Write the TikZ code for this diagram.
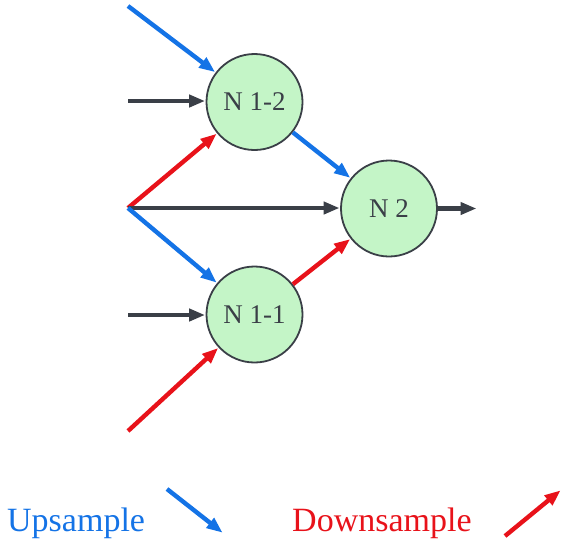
\documentclass[tikz,border=0pt]{standalone}
\usepackage{fontspec}
\setmainfont{Liberation Serif}
\usetikzlibrary{arrows.meta}
\definecolor{ublue}{HTML}{1473E6}
\definecolor{dred}{HTML}{E8121A}
\definecolor{dgray}{HTML}{3A3F47}
\definecolor{nfill}{HTML}{C4F5C7}
\begin{document}
\begin{tikzpicture}[x=1pt,y=-1pt,
  nodecirc/.style={circle,draw=dgray,line width=1.8pt,fill=nfill,minimum size=96pt,inner sep=0pt,text=dgray,font=\fontsize{27}{30}\selectfont},
  conn/.style={line width=4.4pt,-{Triangle[length=16pt,width=12pt]},shorten >=0.5pt},
  upc/.style={conn,draw=ublue},
  downc/.style={conn,draw=dred},
  plainc/.style={conn,draw=dgray},
  legend/.style={font=\fontsize{34}{38}\selectfont,anchor=base west,inner sep=0pt}]
\useasboundingbox (0,0) rectangle (561,539);
\node[nodecirc] (n12) at (254.5,102) {N 1-2};
\node[nodecirc] (n11) at (254.5,314.5) {N 1-1};
\node[nodecirc] (n2) at (389,208.5) {N 2};
\coordinate (a) at (128,6);
\coordinate (b) at (128,101);
\coordinate (c) at (128,208);
\coordinate (d) at (128,315);
\coordinate (e) at (128,431);
\coordinate (out) at (477,208.5);
\draw[upc] (a) -- (n12);
\draw[plainc] (b) -- (b -| n12.west);
\draw[downc] (c) -- (n12);
\draw[plainc] (c) -- (c -| n2.west);
\draw[upc] (c) -- (n11);
\draw[plainc] (d) -- (d -| n11.west);
\draw[downc] (e) -- (n11);
\draw[upc] (n12) -- (n2);
\draw[downc] (n11) -- (n2);
\draw[plainc] (n2.east) -- (out);
\node[legend,text=ublue] (up) at (7,531) {Upsample};
\node[legend,text=dred] (down) at (292,531) {Downsample};
\coordinate (u1) at (167,489);
\coordinate (u2) at (223,533);
\coordinate (d1) at (505,536);
\coordinate (d2) at (561,490);
\draw[upc] (u1) -- (u2);
\draw[downc] (d1) -- (d2);
\end{tikzpicture}
\end{document}
